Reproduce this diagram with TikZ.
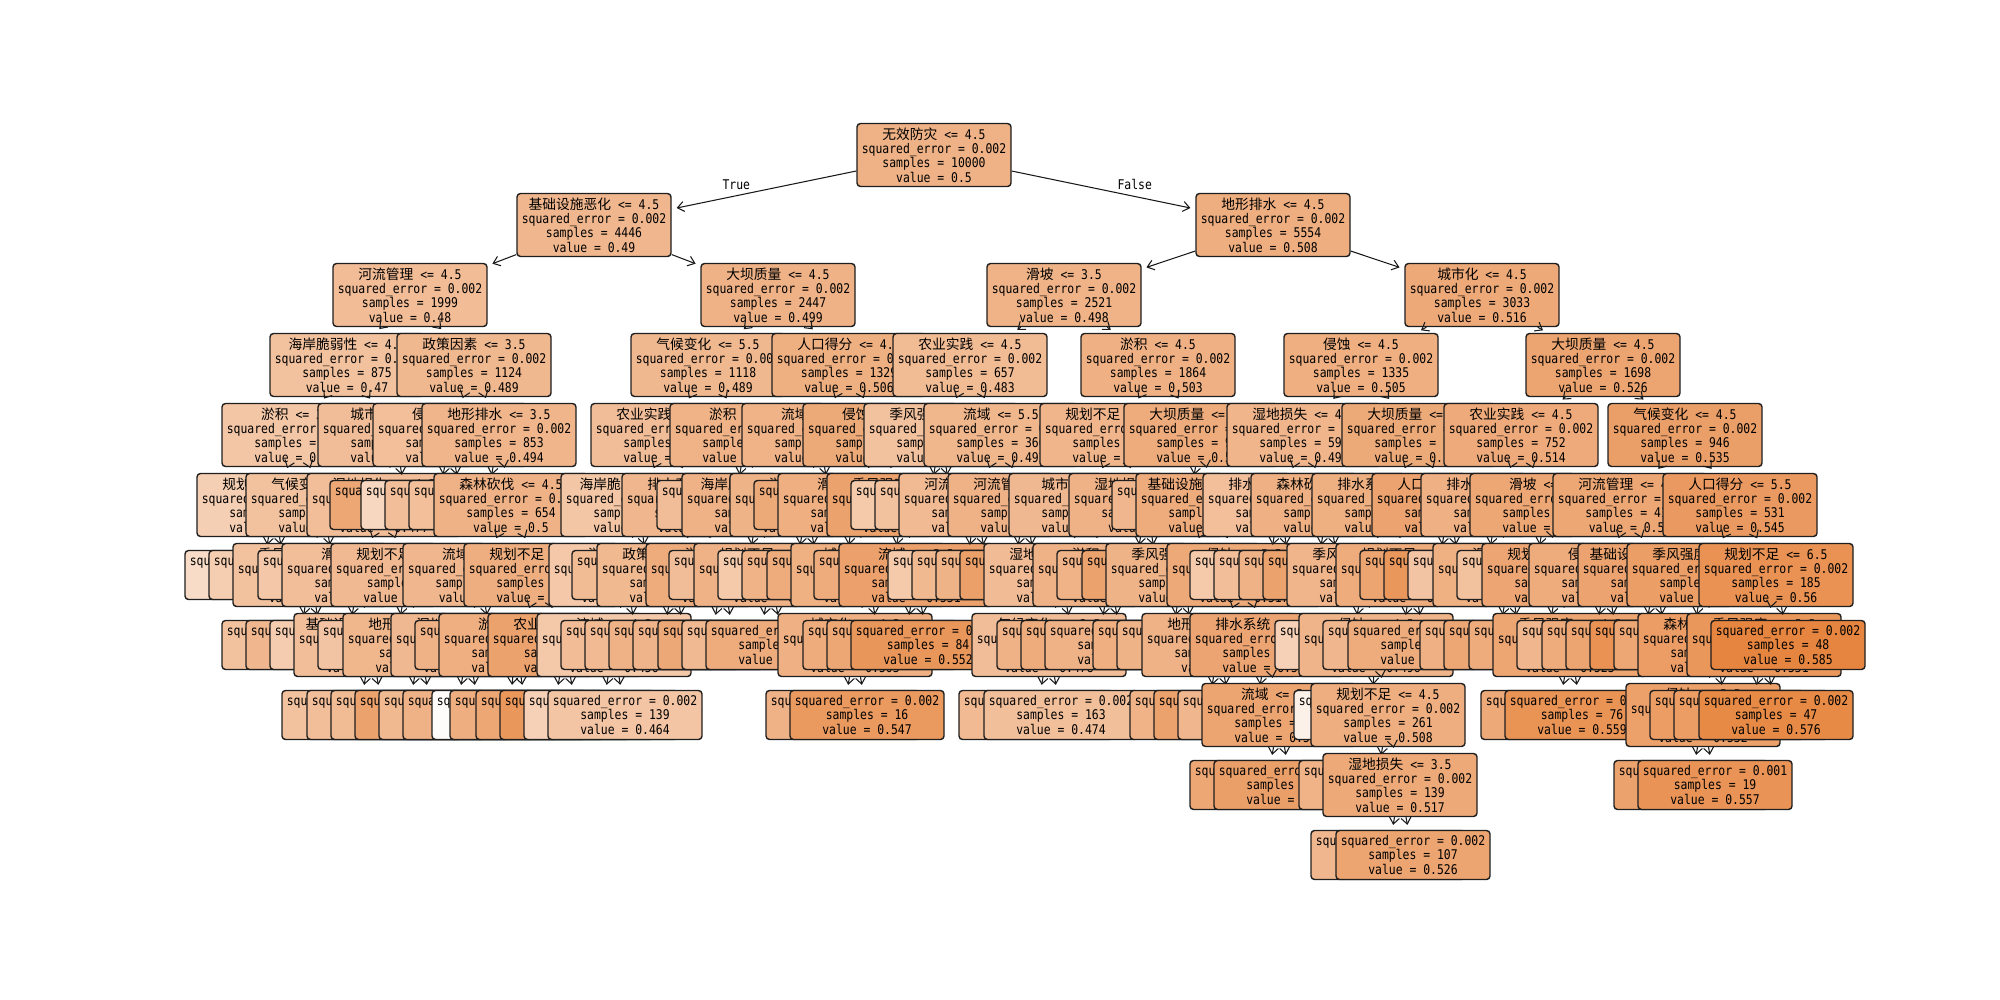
\documentclass[tikz,border=0pt]{standalone}
\usepackage{fontspec}
\setmonofont[FakeStretch=0.855]{DejaVu Sans Mono}
\newfontfamily\zhfont[Scale=1.03]{Noto Sans CJK SC}
\usepackage{xcolor}
\usetikzlibrary{arrows.meta}
\definecolor{treeor}{RGB}{229,129,57}
\lineskiplimit=-10pt
\newcommand{\treefont}{\ttfamily\fontsize{7.6}{8.1}\selectfont}
\newcommand{\splitlbl}[4]{{\zhfont #1} <= #2\\squared\_error = 0.002\\samples = #3\\value = #4}
\newcommand{\leaflbl}[3]{squared\_error = #1\\samples = #2\\value = #3}

\begin{document}
\begin{tikzpicture}[
  x=0.2mm, y=-0.2mm,
  box/.style={draw=black!88, line width=0.8pt, rounded corners=0.7mm, align=center, inner sep=0.4mm, minimum width=30.8mm, font=\treefont},
  inode/.style={box, minimum height=12.6mm},
  lnode/.style={box, minimum height=9.8mm},
  tone/.code={\pgfmathsetmacro\tonepct{max(0,min(100,(#1-0.354)*420))}\edef\tonetmp{\noexpand\pgfkeysalso{fill=treeor!\tonepct!white}}\tonetmp},
  edge/.style={-{Straight Barb[length=1.3mm,width=2mm]}, line width=0.6pt, draw=black!90, shorten >=1mm},
  lbl/.style={font=\treefont, inner sep=0pt}
]
\useasboundingbox (0,0) rectangle (2000,1000);

\node[inode, tone=0.5] (r) at (934,155) {\splitlbl{无效防灾}{4.5}{10000}{0.5}};

\node[inode, tone=0.49] (r0) at (594,225) {\splitlbl{基础设施恶化}{4.5}{4446}{0.49}};
\draw[edge] (r) -- node[lbl, pos=0.65, above=1.2mm] {True} (r0);
\node[inode, tone=0.48] (r00) at (410,295) {\splitlbl{河流管理}{4.5}{1999}{0.48}};
\draw[edge] (r0) -- (r00);
\node[inode, tone=0.47] (r000) at (347,365) {\splitlbl{海岸脆弱性}{4.5}{875}{0.47}};
\draw[edge] (r00) -- (r000);
\node[inode, tone=0.461] (r0000) at (299,435) {\splitlbl{淤积}{3.5}{412}{0.461}};
\draw[edge] (r000) -- (r0000);
\node[inode, tone=0.445] (r00000) at (274,505) {\splitlbl{规划不足}{3.5}{143}{0.445}};
\draw[edge] (r0000) -- (r00000);
\node[lnode, tone=0.42] (r000000) at (262,575) {\leaflbl{0.002}{5}{0.42}};
\draw[edge] (r00000) -- (r000000);
\node[lnode, tone=0.448] (r000001) at (286,575) {\leaflbl{0.002}{138}{0.448}};
\draw[edge] (r00000) -- (r000001);
\node[inode, tone=0.469] (r00001) at (323,505) {\splitlbl{气候变化}{4.5}{269}{0.469}};
\draw[edge] (r0000) -- (r00001);
\node[inode, tone=0.47] (r000010) at (310,575) {\splitlbl{季风强度}{5.5}{258}{0.47}};
\draw[edge] (r00001) -- (r000010);
\node[lnode, tone=0.469] (r0000100) at (299,645) {\leaflbl{0.002}{247}{0.469}};
\draw[edge] (r000010) -- (r0000100);
\node[lnode, tone=0.49] (r0000101) at (323,645) {\leaflbl{0.002}{11}{0.49}};
\draw[edge] (r000010) -- (r0000101);
\node[lnode, tone=0.46] (r000011) at (335,575) {\leaflbl{0.002}{11}{0.46}};
\draw[edge] (r00001) -- (r000011);
\node[inode, tone=0.478] (r0001) at (395,435) {\splitlbl{城市化}{4.5}{463}{0.478}};
\draw[edge] (r000) -- (r0001);
\node[inode, tone=0.477] (r00010) at (384,505) {\splitlbl{湿地损失}{4.5}{452}{0.477}};
\draw[edge] (r0001) -- (r00010);
\node[inode, tone=0.476] (r000100) at (359,575) {\splitlbl{滑坡}{4.5}{402}{0.476}};
\draw[edge] (r00010) -- (r000100);
\node[lnode, tone=0.45] (r0001000) at (347,645) {\leaflbl{0.002}{16}{0.45}};
\draw[edge] (r000100) -- (r0001000);
\node[inode, tone=0.477] (r0001001) at (371,645) {\splitlbl{基础设施恶化}{4.5}{386}{0.477}};
\draw[edge] (r000100) -- (r0001001);
\node[lnode, tone=0.47] (r00010010) at (359,715) {\leaflbl{0.002}{11}{0.47}};
\draw[edge] (r0001001) -- (r00010010);
\node[lnode, tone=0.477] (r00010011) at (384,715) {\leaflbl{0.002}{375}{0.477}};
\draw[edge] (r0001001) -- (r00010011);
\node[inode, tone=0.486] (r000101) at (408,575) {\splitlbl{规划不足}{5.5}{50}{0.486}};
\draw[edge] (r00010) -- (r000101);
\node[lnode, tone=0.465] (r0001010) at (395,645) {\leaflbl{0.002}{10}{0.465}};
\draw[edge] (r000101) -- (r0001010);
\node[inode, tone=0.491] (r0001011) at (420,645) {\splitlbl{地形排水}{3.5}{40}{0.491}};
\draw[edge] (r000101) -- (r0001011);
\node[lnode, tone=0.483] (r00010110) at (408,715) {\leaflbl{0.002}{28}{0.483}};
\draw[edge] (r0001011) -- (r00010110);
\node[lnode, tone=0.53] (r00010111) at (432,715) {\leaflbl{0.002}{12}{0.53}};
\draw[edge] (r0001011) -- (r00010111);
\node[lnode, tone=0.52] (r00011) at (407,505) {\leaflbl{0.002}{11}{0.52}};
\draw[edge] (r0001) -- (r00011);
\node[inode, tone=0.489] (r001) at (474,365) {\splitlbl{政策因素}{3.5}{1124}{0.489}};
\draw[edge] (r00) -- (r001);
\node[inode, tone=0.475] (r0010) at (450,435) {\splitlbl{侵蚀}{5.5}{271}{0.475}};
\draw[edge] (r001) -- (r0010);
\node[lnode, tone=0.43] (r00100) at (438,505) {\leaflbl{0.002}{9}{0.43}};
\draw[edge] (r0010) -- (r00100);
\node[lnode, tone=0.476] (r00101) at (462,505) {\leaflbl{0.002}{262}{0.476}};
\draw[edge] (r0010) -- (r00101);
\node[inode, tone=0.494] (r0011) at (499,435) {\splitlbl{地形排水}{3.5}{853}{0.494}};
\draw[edge] (r001) -- (r0011);
\node[lnode, tone=0.475] (r00110) at (486,505) {\leaflbl{0.002}{199}{0.475}};
\draw[edge] (r0011) -- (r00110);
\node[inode, tone=0.5] (r00111) at (511,505) {\splitlbl{森林砍伐}{4.5}{654}{0.5}};
\draw[edge] (r0011) -- (r00111);
\node[inode, tone=0.49] (r001110) at (480,575) {\splitlbl{流域}{3.5}{312}{0.49}};
\draw[edge] (r00111) -- (r001110);
\node[inode, tone=0.488] (r0011100) at (468,645) {\splitlbl{湿地损失}{5.5}{291}{0.488}};
\draw[edge] (r001110) -- (r0011100);
\node[lnode, tone=0.487] (r00111000) at (456,715) {\leaflbl{0.002}{279}{0.487}};
\draw[edge] (r0011100) -- (r00111000);
\node[lnode, tone=0.5] (r00111001) at (480,715) {\leaflbl{0.002}{12}{0.5}};
\draw[edge] (r0011100) -- (r00111001);
\node[lnode, tone=0.5] (r0011101) at (492,645) {\leaflbl{0.002}{21}{0.5}};
\draw[edge] (r001110) -- (r0011101);
\node[inode, tone=0.508] (r001111) at (541,575) {\splitlbl{规划不足}{4.5}{342}{0.508}};
\draw[edge] (r00111) -- (r001111);
\node[inode, tone=0.505] (r0011110) at (516,645) {\splitlbl{淤积}{4.5}{301}{0.505}};
\draw[edge] (r001111) -- (r0011110);
\node[lnode, tone=0.36] (r00111100) at (509,715) {\leaflbl{0.002}{6}{0.36}};
\draw[edge] (r0011110) -- (r00111100);
\node[lnode, tone=0.508] (r00111101) at (527,715) {\leaflbl{0.002}{295}{0.508}};
\draw[edge] (r0011110) -- (r00111101);
\node[inode, tone=0.53] (r0011111) at (565,645) {\splitlbl{农业实践}{4.5}{41}{0.53}};
\draw[edge] (r001111) -- (r0011111);
\node[lnode, tone=0.52] (r00111110) at (553,715) {\leaflbl{0.002}{29}{0.52}};
\draw[edge] (r0011111) -- (r00111110);
\node[lnode, tone=0.55] (r00111111) at (577,715) {\leaflbl{0.002}{12}{0.55}};
\draw[edge] (r0011111) -- (r00111111);

\node[inode, tone=0.499] (r01) at (778,295) {\splitlbl{大坝质量}{4.5}{2447}{0.499}};
\draw[edge] (r0) -- (r01);
\node[inode, tone=0.489] (r010) at (708,365) {\splitlbl{气候变化}{5.5}{1118}{0.489}};
\draw[edge] (r01) -- (r010);
\node[inode, tone=0.478] (r0100) at (668,435) {\splitlbl{农业实践}{3.5}{512}{0.478}};
\draw[edge] (r010) -- (r0100);
\node[inode, tone=0.462] (r01000) at (638,505) {\splitlbl{海岸脆弱性}{4.5}{233}{0.462}};
\draw[edge] (r0100) -- (r01000);
\node[inode, tone=0.458] (r010000) at (626,575) {\splitlbl{淤积}{5.5}{199}{0.458}};
\draw[edge] (r01000) -- (r010000);
\node[inode, tone=0.456] (r0100000) at (614,645) {\splitlbl{流域}{4.5}{187}{0.456}};
\draw[edge] (r010000) -- (r0100000);
\node[lnode, tone=0.44] (r01000000) at (601,715) {\leaflbl{0.002}{48}{0.44}};
\draw[edge] (r0100000) -- (r01000000);
\node[lnode, tone=0.464] (r01000001) at (625,715) {\leaflbl{0.002}{139}{0.464}};
\draw[edge] (r0100000) -- (r01000001);
\node[lnode, tone=0.48] (r0100001) at (638,645) {\leaflbl{0.002}{12}{0.48}};
\draw[edge] (r010000) -- (r0100001);
\node[lnode, tone=0.483] (r010001) at (649,575) {\leaflbl{0.002}{34}{0.483}};
\draw[edge] (r01000) -- (r010001);
\node[inode, tone=0.49] (r01001) at (699,505) {\splitlbl{排水系统}{4.5}{279}{0.49}};
\draw[edge] (r0100) -- (r01001);
\node[inode, tone=0.487] (r010010) at (674,575) {\splitlbl{政策因素}{3.5}{246}{0.487}};
\draw[edge] (r01001) -- (r010010);
\node[lnode, tone=0.485] (r0100100) at (662,645) {\leaflbl{0.002}{233}{0.485}};
\draw[edge] (r010010) -- (r0100100);
\node[lnode, tone=0.5] (r0100101) at (686,645) {\leaflbl{0.002}{13}{0.5}};
\draw[edge] (r010010) -- (r0100101);
\node[inode, tone=0.51] (r010011) at (723,575) {\splitlbl{淤积}{4.5}{33}{0.51}};
\draw[edge] (r01001) -- (r010011);
\node[lnode, tone=0.495] (r0100110) at (710,645) {\leaflbl{0.002}{11}{0.495}};
\draw[edge] (r010011) -- (r0100110);
\node[lnode, tone=0.518] (r0100111) at (735,645) {\leaflbl{0.002}{22}{0.518}};
\draw[edge] (r010011) -- (r0100111);
\node[inode, tone=0.498] (r0101) at (747,435) {\splitlbl{淤积}{5.5}{606}{0.498}};
\draw[edge] (r010) -- (r0101);
\node[lnode, tone=0.478] (r01010) at (734,505) {\leaflbl{0.002}{34}{0.478}};
\draw[edge] (r0101) -- (r01010);
\node[inode, tone=0.499] (r01011) at (759,505) {\splitlbl{海岸脆弱性}{3.5}{572}{0.499}};
\draw[edge] (r0101) -- (r01011);
\node[lnode, tone=0.478] (r010110) at (746,575) {\leaflbl{0.002}{20}{0.478}};
\draw[edge] (r01011) -- (r010110);
\node[inode, tone=0.5] (r010111) at (771,575) {\splitlbl{规划不足}{3.5}{552}{0.5}};
\draw[edge] (r01011) -- (r010111);
\node[lnode, tone=0.486] (r0101110) at (759,645) {\leaflbl{0.002}{18}{0.486}};
\draw[edge] (r010111) -- (r0101110);
\node[lnode, tone=0.51] (r0101111) at (783,645) {\leaflbl{0.002}{534}{0.501}};
\draw[edge] (r010111) -- (r0101111);
\node[inode, tone=0.506] (r011) at (849,365) {\splitlbl{人口得分}{4.5}{1329}{0.506}};
\draw[edge] (r01) -- (r011);
\node[inode, tone=0.498] (r0110) at (819,435) {\splitlbl{流域}{4.5}{694}{0.498}};
\draw[edge] (r011) -- (r0110);
\node[inode, tone=0.497] (r01100) at (807,505) {\splitlbl{淤积}{4.5}{672}{0.497}};
\draw[edge] (r0110) -- (r01100);
\node[lnode, tone=0.455] (r011000) at (795,575) {\leaflbl{0.002}{13}{0.455}};
\draw[edge] (r01100) -- (r011000);
\node[lnode, tone=0.498] (r011001) at (819,575) {\leaflbl{0.002}{659}{0.498}};
\draw[edge] (r01100) -- (r011001);
\node[lnode, tone=0.515] (r01101) at (831,505) {\leaflbl{0.002}{22}{0.515}};
\draw[edge] (r0110) -- (r01101);
\node[inode, tone=0.515] (r0111) at (880,435) {\splitlbl{侵蚀}{3.5}{635}{0.515}};
\draw[edge] (r011) -- (r0111);
\node[inode, tone=0.505] (r01110) at (855,505) {\splitlbl{滑坡}{4.5}{396}{0.505}};
\draw[edge] (r0111) -- (r01110);
\node[lnode, tone=0.51] (r011100) at (844,575) {\leaflbl{0.002}{27}{0.51}};
\draw[edge] (r01110) -- (r011100);
\node[inode, tone=0.504] (r011101) at (868,575) {\splitlbl{城市化}{5.5}{369}{0.504}};
\draw[edge] (r01110) -- (r011101);
\node[inode, tone=0.503] (r0111010) at (855,645) {\splitlbl{城市化}{4.5}{355}{0.503}};
\draw[edge] (r011101) -- (r0111010);
\node[lnode, tone=0.5] (r01110100) at (843,715) {\leaflbl{0.002}{339}{0.5}};
\draw[edge] (r0111010) -- (r01110100);
\node[lnode, tone=0.547] (r01110101) at (867,715) {\leaflbl{0.002}{16}{0.547}};
\draw[edge] (r0111010) -- (r01110101);
\node[lnode, tone=0.51] (r0111011) at (880,645) {\leaflbl{0.002}{14}{0.51}};
\draw[edge] (r011101) -- (r0111011);
\node[inode, tone=0.53] (r01111) at (904,505) {\splitlbl{季风强度}{4.5}{239}{0.53}};
\draw[edge] (r0111) -- (r01111);
\node[lnode, tone=0.51] (r011110) at (891,575) {\leaflbl{0.002}{12}{0.51}};
\draw[edge] (r01111) -- (r011110);
\node[inode, tone=0.531] (r011111) at (916,575) {\splitlbl{流域}{5.5}{227}{0.531}};
\draw[edge] (r01111) -- (r011111);
\node[lnode, tone=0.52] (r0111110) at (904,645) {\leaflbl{0.002}{143}{0.52}};
\draw[edge] (r011111) -- (r0111110);
\node[lnode, tone=0.552] (r0111111) at (928,645) {\leaflbl{0.002}{84}{0.552}};
\draw[edge] (r011111) -- (r0111111);

\node[inode, tone=0.508] (r1) at (1273,225) {\splitlbl{地形排水}{4.5}{5554}{0.508}};
\draw[edge] (r) -- node[lbl, pos=0.67, above=1.2mm] {False} (r1);
\node[inode, tone=0.498] (r10) at (1064,295) {\splitlbl{滑坡}{3.5}{2521}{0.498}};
\draw[edge] (r1) -- (r10);
\node[inode, tone=0.483] (r100) at (970,365) {\splitlbl{农业实践}{4.5}{657}{0.483}};
\draw[edge] (r10) -- (r100);
\node[inode, tone=0.471] (r1000) at (941,435) {\splitlbl{季风强度}{4.5}{291}{0.471}};
\draw[edge] (r100) -- (r1000);
\node[lnode, tone=0.455] (r10000) at (928,505) {\leaflbl{0.002}{17}{0.455}};
\draw[edge] (r1000) -- (r10000);
\node[lnode, tone=0.472] (r10001) at (952,505) {\leaflbl{0.002}{274}{0.472}};
\draw[edge] (r1000) -- (r10001);
\node[inode, tone=0.492] (r1001) at (1001,435) {\splitlbl{流域}{5.5}{366}{0.492}};
\draw[edge] (r100) -- (r1001);
\node[inode, tone=0.485] (r10010) at (976,505) {\splitlbl{河流管理}{3.5}{178}{0.485}};
\draw[edge] (r1001) -- (r10010);
\node[lnode, tone=0.455] (r100100) at (965,575) {\leaflbl{0.002}{13}{0.455}};
\draw[edge] (r10010) -- (r100100);
\node[lnode, tone=0.487] (r100101) at (989,575) {\leaflbl{0.002}{165}{0.487}};
\draw[edge] (r10010) -- (r100101);
\node[inode, tone=0.499] (r10011) at (1025,505) {\splitlbl{河流管理}{4.5}{188}{0.499}};
\draw[edge] (r1001) -- (r10011);
\node[lnode, tone=0.497] (r100110) at (1013,575) {\leaflbl{0.002}{176}{0.497}};
\draw[edge] (r10011) -- (r100110);
\node[lnode, tone=0.533] (r100111) at (1037,575) {\leaflbl{0.002}{12}{0.533}};
\draw[edge] (r10011) -- (r100111);
\node[inode, tone=0.503] (r101) at (1158,365) {\splitlbl{淤积}{4.5}{1864}{0.503}};
\draw[edge] (r10) -- (r101);
\node[inode, tone=0.494] (r1010) at (1117,435) {\splitlbl{规划不足}{4.5}{873}{0.494}};
\draw[edge] (r101) -- (r1010);
\node[inode, tone=0.488] (r10100) at (1086,505) {\splitlbl{城市化}{3.5}{401}{0.488}};
\draw[edge] (r1010) -- (r10100);
\node[inode, tone=0.482] (r101000) at (1061,575) {\splitlbl{湿地损失}{4.5}{288}{0.482}};
\draw[edge] (r10100) -- (r101000);
\node[inode, tone=0.478] (r1010000) at (1049,645) {\splitlbl{气候变化}{3.5}{261}{0.478}};
\draw[edge] (r101000) -- (r1010000);
\node[lnode, tone=0.485] (r10100000) at (1036,715) {\leaflbl{0.002}{98}{0.485}};
\draw[edge] (r1010000) -- (r10100000);
\node[lnode, tone=0.474] (r10100001) at (1061,715) {\leaflbl{0.002}{163}{0.474}};
\draw[edge] (r1010000) -- (r10100001);
\node[lnode, tone=0.5] (r1010001) at (1074,645) {\leaflbl{0.002}{27}{0.5}};
\draw[edge] (r101000) -- (r1010001);
\node[inode, tone=0.5] (r101001) at (1110,575) {\splitlbl{淤积}{4.5}{113}{0.5}};
\draw[edge] (r10100) -- (r101001);
\node[lnode, tone=0.51] (r1010010) at (1098,645) {\leaflbl{0.002}{12}{0.51}};
\draw[edge] (r101001) -- (r1010010);
\node[lnode, tone=0.499] (r1010011) at (1122,645) {\leaflbl{0.002}{101}{0.499}};
\draw[edge] (r101001) -- (r1010011);
\node[inode, tone=0.5] (r10101) at (1146,505) {\splitlbl{湿地损失}{3.5}{472}{0.5}};
\draw[edge] (r1010) -- (r10101);
\node[lnode, tone=0.498] (r101010) at (1134,575) {\leaflbl{0.002}{443}{0.498}};
\draw[edge] (r10101) -- (r101010);
\node[lnode, tone=0.53] (r101011) at (1159,575) {\leaflbl{0.002}{29}{0.53}};
\draw[edge] (r10101) -- (r101011);
\node[inode, tone=0.511] (r1011) at (1201,435) {\splitlbl{大坝质量}{5.5}{991}{0.511}};
\draw[edge] (r101) -- (r1011);
\node[lnode, tone=0.49] (r10110) at (1189,505) {\leaflbl{0.002}{35}{0.49}};
\draw[edge] (r1011) -- (r10110);
\node[inode, tone=0.512] (r10111) at (1213,505) {\splitlbl{基础设施恶化}{3.5}{956}{0.512}};
\draw[edge] (r1011) -- (r10111);
\node[inode, tone=0.497] (r101110) at (1183,575) {\splitlbl{季风强度}{3.5}{227}{0.497}};
\draw[edge] (r10111) -- (r101110);
\node[lnode, tone=0.505] (r1011100) at (1170,645) {\leaflbl{0.002}{15}{0.505}};
\draw[edge] (r101110) -- (r1011100);
\node[lnode, tone=0.497] (r1011101) at (1194,645) {\leaflbl{0.002}{212}{0.497}};
\draw[edge] (r101110) -- (r1011101);
\node[inode, tone=0.517] (r101111) at (1244,575) {\splitlbl{侵蚀}{5.5}{729}{0.517}};
\draw[edge] (r10111) -- (r101111);
\node[inode, tone=0.5] (r1011110) at (1219,645) {\splitlbl{地形排水}{3.5}{220}{0.5}};
\draw[edge] (r101111) -- (r1011110);
\node[lnode, tone=0.498] (r10111100) at (1207,715) {\leaflbl{0.002}{205}{0.498}};
\draw[edge] (r1011110) -- (r10111100);
\node[lnode, tone=0.53] (r10111101) at (1231,715) {\leaflbl{0.002}{15}{0.53}};
\draw[edge] (r1011110) -- (r10111101);
\node[inode, tone=0.524] (r1011111) at (1267,645) {\splitlbl{排水系统}{4.5}{509}{0.524}};
\draw[edge] (r101111) -- (r1011111);
\node[lnode, tone=0.49] (r10111110) at (1255,715) {\leaflbl{0.002}{8}{0.49}};
\draw[edge] (r1011111) -- (r10111110);
\node[inode, tone=0.525] (r10111111) at (1279,715) {\splitlbl{流域}{5.5}{501}{0.525}};
\draw[edge] (r1011111) -- (r10111111);
\node[lnode, tone=0.52] (r101111110) at (1267,785) {\leaflbl{0.002}{338}{0.52}};
\draw[edge] (r10111111) -- (r101111110);
\node[lnode, tone=0.535] (r101111111) at (1291,785) {\leaflbl{0.002}{163}{0.535}};
\draw[edge] (r10111111) -- (r101111111);

\node[inode, tone=0.516] (r11) at (1482,295) {\splitlbl{城市化}{4.5}{3033}{0.516}};
\draw[edge] (r1) -- (r11);
\node[inode, tone=0.505] (r110) at (1361,365) {\splitlbl{侵蚀}{4.5}{1335}{0.505}};
\draw[edge] (r11) -- (r110);
\node[inode, tone=0.493] (r1100) at (1304,435) {\splitlbl{湿地损失}{4.5}{596}{0.493}};
\draw[edge] (r110) -- (r1100);
\node[inode, tone=0.475] (r11000) at (1280,505) {\splitlbl{排水系统}{3.5}{187}{0.475}};
\draw[edge] (r1100) -- (r11000);
\node[lnode, tone=0.455] (r110000) at (1267,575) {\leaflbl{0.002}{9}{0.455}};
\draw[edge] (r11000) -- (r110000);
\node[lnode, tone=0.476] (r110001) at (1291,575) {\leaflbl{0.002}{178}{0.476}};
\draw[edge] (r11000) -- (r110001);
\node[inode, tone=0.502] (r11001) at (1328,505) {\splitlbl{森林砍伐}{4.5}{409}{0.502}};
\draw[edge] (r1100) -- (r11001);
\node[lnode, tone=0.5] (r110010) at (1316,575) {\leaflbl{0.002}{392}{0.5}};
\draw[edge] (r11001) -- (r110010);
\node[lnode, tone=0.53] (r110011) at (1340,575) {\leaflbl{0.002}{17}{0.53}};
\draw[edge] (r11001) -- (r110011);
\node[inode, tone=0.515] (r1101) at (1419,435) {\splitlbl{大坝质量}{3.5}{739}{0.515}};
\draw[edge] (r110) -- (r1101);
\node[inode, tone=0.506] (r11010) at (1389,505) {\splitlbl{排水系统}{4.5}{578}{0.506}};
\draw[edge] (r1101) -- (r11010);
\node[inode, tone=0.493] (r110100) at (1364,575) {\splitlbl{季风强度}{4.5}{277}{0.493}};
\draw[edge] (r11010) -- (r110100);
\node[lnode, tone=0.44] (r1101000) at (1352,645) {\leaflbl{0.002}{6}{0.44}};
\draw[edge] (r110100) -- (r1101000);
\node[inode, tone=0.496] (r1101001) at (1376,645) {\splitlbl{侵蚀}{4.5}{271}{0.496}};
\draw[edge] (r110100) -- (r1101001);
\node[lnode, tone=0.38] (r11010010) at (1371,715) {\leaflbl{0.002}{10}{0.38}};
\draw[edge] (r1101001) -- (r11010010);
\node[inode, tone=0.508] (r11010011) at (1388,715) {\splitlbl{规划不足}{4.5}{261}{0.508}};
\draw[edge] (r1101001) -- (r11010011);
\node[lnode, tone=0.498] (r110100110) at (1376,785) {\leaflbl{0.002}{122}{0.498}};
\draw[edge] (r11010011) -- (r110100110);
\node[inode, tone=0.517] (r110100111) at (1400,785) {\splitlbl{湿地损失}{3.5}{139}{0.517}};
\draw[edge] (r11010011) -- (r110100111);
\node[lnode, tone=0.49] (r1101001110) at (1388,855) {\leaflbl{0.002}{32}{0.49}};
\draw[edge] (r110100111) -- (r1101001110);
\node[lnode, tone=0.526] (r1101001111) at (1413,855) {\leaflbl{0.002}{107}{0.526}};
\draw[edge] (r110100111) -- (r1101001111);
\node[inode, tone=0.51] (r110101) at (1413,575) {\splitlbl{规划不足}{5.5}{301}{0.51}};
\draw[edge] (r11010) -- (r110101);
\node[lnode, tone=0.49] (r1101010) at (1400,645) {\leaflbl{0.002}{12}{0.49}};
\draw[edge] (r110101) -- (r1101010);
\node[lnode, tone=0.511] (r1101011) at (1425,645) {\leaflbl{0.002}{289}{0.511}};
\draw[edge] (r110101) -- (r1101011);
\node[inode, tone=0.527] (r11011) at (1449,505) {\splitlbl{人口得分}{3.5}{161}{0.527}};
\draw[edge] (r1101) -- (r11011);
\node[lnode, tone=0.525] (r110110) at (1437,575) {\leaflbl{0.002}{148}{0.525}};
\draw[edge] (r11011) -- (r110110);
\node[lnode, tone=0.55] (r110111) at (1461,575) {\leaflbl{0.002}{13}{0.55}};
\draw[edge] (r11011) -- (r110111);
\node[inode, tone=0.526] (r111) at (1603,365) {\splitlbl{大坝质量}{4.5}{1698}{0.526}};
\draw[edge] (r11) -- (r111);
\node[inode, tone=0.514] (r1110) at (1521,435) {\splitlbl{农业实践}{4.5}{752}{0.514}};
\draw[edge] (r111) -- (r1110);
\node[inode, tone=0.503] (r11100) at (1498,505) {\splitlbl{排水系统}{3.5}{291}{0.503}};
\draw[edge] (r1110) -- (r11100);
\node[lnode, tone=0.465] (r111000) at (1485,575) {\leaflbl{0.002}{8}{0.465}};
\draw[edge] (r11100) -- (r111000);
\node[inode, tone=0.504] (r111001) at (1510,575) {\splitlbl{滑坡}{3.5}{283}{0.504}};
\draw[edge] (r11100) -- (r111001);
\node[lnode, tone=0.503] (r1110010) at (1497,645) {\leaflbl{0.002}{267}{0.503}};
\draw[edge] (r111001) -- (r1110010);
\node[lnode, tone=0.52] (r1110011) at (1521,645) {\leaflbl{0.002}{16}{0.52}};
\draw[edge] (r111001) -- (r1110011);
\node[inode, tone=0.521] (r11101) at (1547,505) {\splitlbl{滑坡}{4.5}{461}{0.521}};
\draw[edge] (r1110) -- (r11101);
\node[lnode, tone=0.47] (r111010) at (1534,575) {\leaflbl{0.002}{12}{0.47}};
\draw[edge] (r11101) -- (r111010);
\node[inode, tone=0.522] (r111011) at (1559,575) {\splitlbl{规划不足}{3.5}{449}{0.522}};
\draw[edge] (r11101) -- (r111011);
\node[lnode, tone=0.51] (r1110110) at (1546,645) {\leaflbl{0.002}{12}{0.51}};
\draw[edge] (r111011) -- (r1110110);
\node[inode, tone=0.523] (r1110111) at (1570,645) {\splitlbl{季风强度}{4.5}{437}{0.523}};
\draw[edge] (r111011) -- (r1110111);
\node[lnode, tone=0.516] (r11101110) at (1558,715) {\leaflbl{0.002}{361}{0.516}};
\draw[edge] (r1110111) -- (r11101110);
\node[lnode, tone=0.559] (r11101111) at (1582,715) {\leaflbl{0.002}{76}{0.559}};
\draw[edge] (r1110111) -- (r11101111);
\node[inode, tone=0.535] (r1111) at (1685,435) {\splitlbl{气候变化}{4.5}{946}{0.535}};
\draw[edge] (r111) -- (r1111);
\node[inode, tone=0.52] (r11110) at (1630,505) {\splitlbl{河流管理}{4.5}{415}{0.52}};
\draw[edge] (r1111) -- (r11110);
\node[inode, tone=0.512] (r111100) at (1606,575) {\splitlbl{侵蚀}{4.5}{196}{0.512}};
\draw[edge] (r11110) -- (r111100);
\node[lnode, tone=0.49] (r1111000) at (1594,645) {\leaflbl{0.002}{10}{0.49}};
\draw[edge] (r111100) -- (r1111000);
\node[lnode, tone=0.513] (r1111001) at (1619,645) {\leaflbl{0.002}{186}{0.513}};
\draw[edge] (r111100) -- (r1111001);
\node[inode, tone=0.527] (r111101) at (1655,575) {\splitlbl{基础设施恶化}{4.5}{219}{0.527}};
\draw[edge] (r11110) -- (r111101);
\node[lnode, tone=0.525] (r1111010) at (1643,645) {\leaflbl{0.002}{204}{0.525}};
\draw[edge] (r111101) -- (r1111010);
\node[lnode, tone=0.56] (r1111011) at (1667,645) {\leaflbl{0.002}{15}{0.56}};
\draw[edge] (r111101) -- (r1111011);
\node[inode, tone=0.545] (r11111) at (1740,505) {\splitlbl{人口得分}{5.5}{531}{0.545}};
\draw[edge] (r1111) -- (r11111);
\node[inode, tone=0.538] (r111110) at (1704,575) {\splitlbl{季风强度}{4.5}{346}{0.538}};
\draw[edge] (r11111) -- (r111110);
\node[lnode, tone=0.52] (r1111100) at (1691,645) {\leaflbl{0.002}{13}{0.52}};
\draw[edge] (r111110) -- (r1111100);
\node[inode, tone=0.539] (r1111101) at (1715,645) {\splitlbl{森林砍伐}{4.5}{333}{0.539}};
\draw[edge] (r111110) -- (r1111101);
\node[inode, tone=0.532] (r11111010) at (1703,715) {\splitlbl{侵蚀}{5.5}{286}{0.532}};
\draw[edge] (r1111101) -- (r11111010);
\node[lnode, tone=0.53] (r111110100) at (1691,785) {\leaflbl{0.002}{267}{0.53}};
\draw[edge] (r11111010) -- (r111110100);
\node[lnode, tone=0.557] (r111110101) at (1715,785) {\leaflbl{0.001}{19}{0.557}};
\draw[edge] (r11111010) -- (r111110101);
\node[lnode, tone=0.54] (r11111011) at (1727,715) {\leaflbl{0.002}{47}{0.54}};
\draw[edge] (r1111101) -- (r11111011);
\node[inode, tone=0.56] (r111111) at (1776,575) {\splitlbl{规划不足}{6.5}{185}{0.56}};
\draw[edge] (r11111) -- (r111111);
\node[inode, tone=0.551] (r1111110) at (1764,645) {\splitlbl{季风强度}{5.5}{137}{0.551}};
\draw[edge] (r111111) -- (r1111110);
\node[lnode, tone=0.54] (r11111100) at (1751,715) {\leaflbl{0.002}{90}{0.54}};
\draw[edge] (r1111110) -- (r11111100);
\node[lnode, tone=0.576] (r11111101) at (1776,715) {\leaflbl{0.002}{47}{0.576}};
\draw[edge] (r1111110) -- (r11111101);
\node[lnode, tone=0.585] (r1111111) at (1788,645) {\leaflbl{0.002}{48}{0.585}};
\draw[edge] (r111111) -- (r1111111);
\end{tikzpicture}
\end{document}
